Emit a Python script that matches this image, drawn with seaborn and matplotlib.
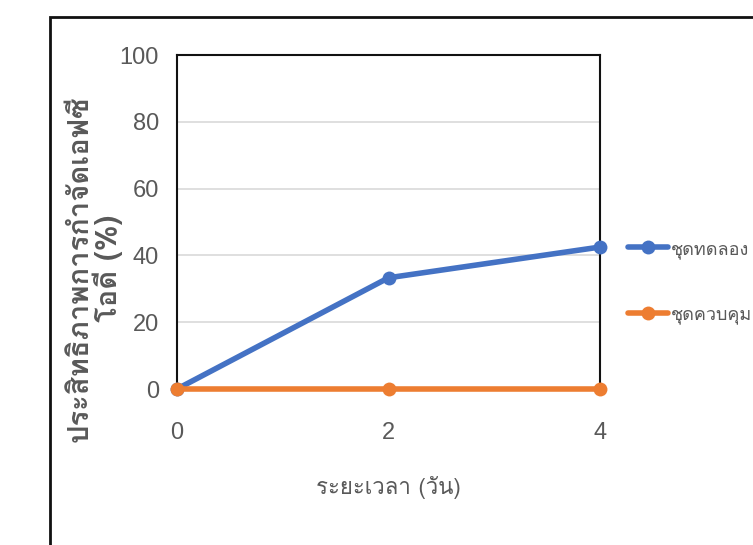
import matplotlib
matplotlib.use("Agg")
import matplotlib.pyplot as plt
from matplotlib import font_manager as fm
from matplotlib.ft2font import FT2Font
from matplotlib.patches import Rectangle
import seaborn as sns
import pandas as pd

# ---- data ----
days = [0, 2, 4]
experiment = [0, 33.3, 42.5]
control = [0, 0, 0]
series_names = ["ชุดทดลอง", "ชุดควบคุม"]
y_ticks = [0, 20, 40, 60, 80, 100]
x_ticks = [0, 2, 4]
x_label = "ระยะเวลา (วัน)"
y_label = "ประสิทธิภาพการกำจัดเอฟซี\nโอดี (%)"

# ---- fonts ----
def find_font(ch):
    names = []
    for f in fm.fontManager.ttflist:
        try:
            if ord(ch) in FT2Font(f.fname).get_charmap():
                names.append(f.name)
        except Exception:
            pass
    return names

thai = find_font("ก")
thai_font = thai[0] if thai else "DejaVu Sans"
num_names = {f.name for f in fm.fontManager.ttflist}
num_font = "Liberation Sans Narrow" if "Liberation Sans Narrow" in num_names else "Liberation Sans"

sns.set_style("white")
plt.rcParams["font.family"] = [thai_font, "DejaVu Sans"]

df = pd.DataFrame({
    "day": days * 2,
    "value": experiment + control,
    "series": [series_names[0]] * len(days) + [series_names[1]] * len(days),
})

fig = plt.figure(figsize=(7.53, 5.45), dpi=100)
ax = fig.add_axes([177 / 753, 1 - 389 / 545, 423 / 753, 334 / 545])

palette = {series_names[0]: "#4472C4", series_names[1]: "#ED7D31"}
sns.lineplot(data=df, x="day", y="value", hue="series", palette=palette,
             marker="o", markersize=10, markeredgewidth=0, linewidth=4,
             ax=ax, clip_on=False, zorder=5)

ax.set_xlim(0, 4)
ax.set_ylim(0, 100)
ax.set_xticks(x_ticks)
ax.set_yticks(y_ticks)
ax.yaxis.grid(True, color="#D9D9D9", linewidth=1.2)
ax.xaxis.grid(False)
for s in ax.spines.values():
    s.set_visible(True)
    s.set_color("#111111")
    s.set_linewidth(1.5)

gray = "#595959"
ax.tick_params(axis="both", length=0, colors=gray, labelsize=17)
ax.tick_params(axis="x", pad=24)
ax.tick_params(axis="y", pad=13)
for lab in ax.get_xticklabels() + ax.get_yticklabels():
    lab.set_fontfamily([num_font, "DejaVu Sans"])

ax.set_xlabel(x_label, fontsize=16, color=gray, va="center")
ax.xaxis.set_label_coords(0.5, -0.296)
ax.set_ylabel(y_label, fontsize=21, color=gray, fontweight="bold", va="center",
              multialignment="center", linespacing=0.95)
ax.yaxis.set_label_coords(-0.195, 0.36)

handles, labels = ax.get_legend_handles_labels()
leg = ax.legend(handles, labels, loc="center left",
                bbox_to_anchor=(612 / 753, 1 - 282 / 545), bbox_transform=fig.transFigure,
                frameon=False, fontsize=13, labelspacing=2.6, handlelength=2.2,
                handletextpad=0.15, labelcolor=gray)

fig.add_artist(Rectangle((50 / 753, -0.1), 1.0, 1.1 - 17 / 545, transform=fig.transFigure,
                         fill=False, edgecolor="#111111", linewidth=2))

fig.savefig("out.png", dpi=100)
